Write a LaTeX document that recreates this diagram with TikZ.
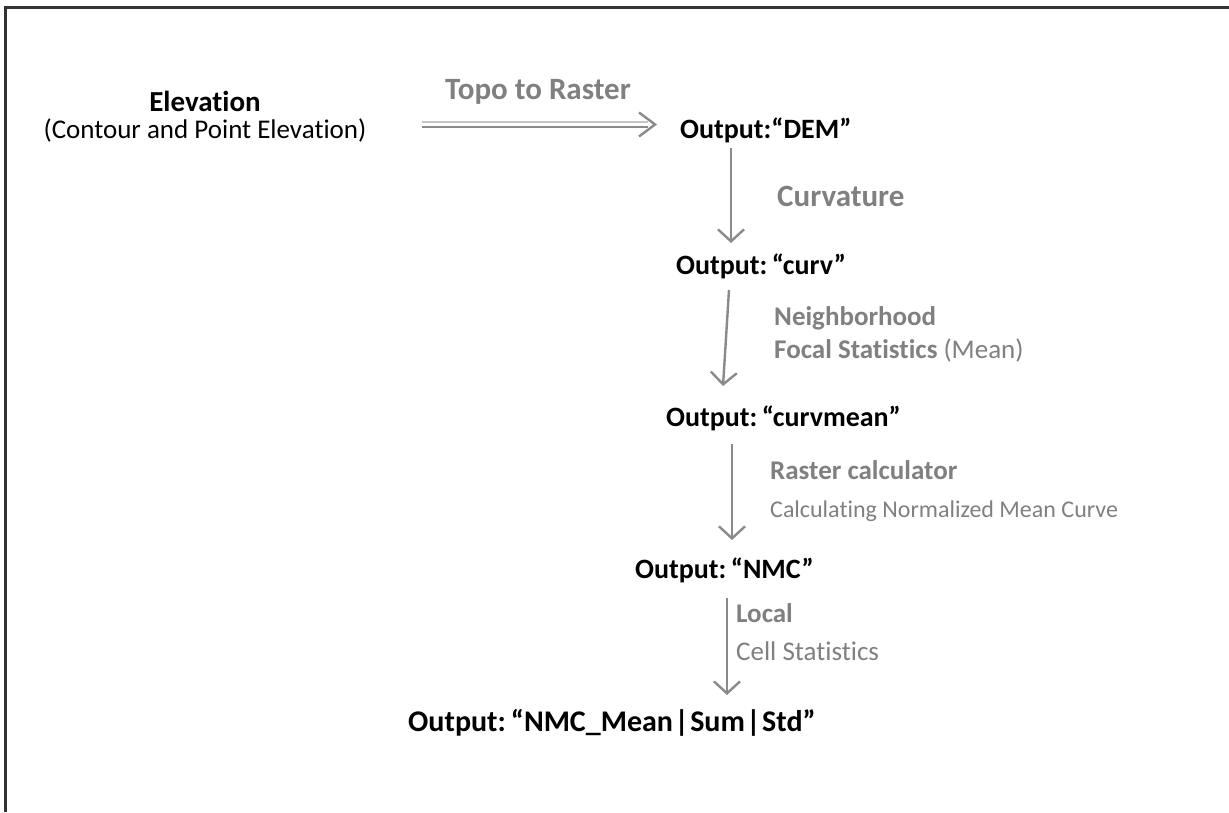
\documentclass[tikz,border=0pt]{standalone}
\usepackage{fontspec}
\setmainfont{Carlito}[Ligatures={NoCommon}]
\usetikzlibrary{arrows.meta}
\definecolor{lbl}{HTML}{808080}
\definecolor{arrc}{HTML}{8A8A8A}
\definecolor{frame}{HTML}{333333}
\tikzset{
  outbox/.style={font=\fontsize{28}{32}\selectfont\bfseries, text=black, inner sep=0pt, anchor=west},
  glbl/.style={font=\fontsize{27}{31}\selectfont\bfseries, text=lbl, inner sep=0pt, anchor=west},
  glreg/.style={font=\fontsize{25}{29}\selectfont, text=lbl, inner sep=0pt, anchor=west},
  flowarr/.style={draw=arrc, line width=2.4pt, -{Straight Barb[length=12pt,width=26pt,line width=2.4pt]}},
}
\begin{document}
\begin{tikzpicture}[x=1pt,y=-1pt]
\useasboundingbox (0,0) rectangle (1229,812);
\fill[white] (0,0) rectangle (1229,812);
\draw[frame, line width=3pt] (5.5,812) -- (5.5,7.5) -- (1229,7.5);

\node[font=\fontsize{29}{33}\selectfont\bfseries, inner sep=0pt] (elev) at (205,101) {Elevation};
\node[font=\fontsize{27}{31}\selectfont, inner sep=0pt] (cont) at (205,130) {(Contour and Point Elevation)};
\node[font=\fontsize{31}{35}\selectfont\bfseries, text=lbl, inner sep=0pt] (topo) at (538,92) {Topo to Raster};

\node[outbox] (dem) at (680,130) {Output:“DEM”};
\node[outbox] (curv) at (676,266) {Output:\kern-4pt{} “curv”};
\node[outbox] (cmean) at (666,418) {Output:\kern-4pt{} “curvmean”};
\node[outbox] (nmc) at (635,570) {Output:\kern-4pt{} “NMC”};
\node[outbox, font=\fontsize{30}{34}\selectfont\bfseries] (fin) at (408,723) {Output:\kern-4pt{} “NMC\_Mean\kern1.5pt|\kern1.5pt Sum\kern1.5pt|\kern1.5pt Std”};

\node[glbl, font=\fontsize{31}{35}\selectfont\bfseries] (l1) at (777,196) {Curvature};
\node[glbl] (l2a) at (774,318) {Neighborhood};
\node[glbl] (l2b) at (774,350) {Focal Statistics \mdseries(Mean)};
\node[glbl] (l3a) at (770,470) {Raster calculator};
\node[glreg, font=\fontsize{24}{28}\selectfont] (l3b) at (770,511) {Calculating Normalized Mean Curve};
\node[glbl] (l4a) at (736,613) {Local};
\node[glreg, font=\fontsize{27}{31}\selectfont] (l4b) at (736,651) {Cell Statistics};

% double arrow Topo to Raster
\coordinate (ts) at (422,124.5);
\coordinate (te) at (655,124.5);
\draw[draw=arrc, line width=2.4pt] ([yshift=-2.5pt]ts) -- ([xshift=-7pt,yshift=-2.5pt]te);
\draw[draw=arrc!50, line width=2.4pt] ([yshift=2.5pt]ts) -- ([xshift=-7pt,yshift=2.5pt]te);
\draw[draw=arrc, line width=2.4pt, line join=miter] ([xshift=-16pt,yshift=-12pt]te) -- (te) -- ([xshift=-16pt,yshift=12pt]te);

% vertical arrows
\coordinate (a1s) at (731,148); \coordinate (a1e) at (731,243);
\coordinate (a2s) at (729,290); \coordinate (a2e) at (723,386);
\coordinate (a3s) at (732,444); \coordinate (a3e) at (732,540);
\coordinate (a4s) at (727,598); \coordinate (a4e) at (727,695);
\draw[flowarr] (a1s) -- (a1e);
\draw[flowarr] (a2s) -- (a2e);
\draw[flowarr] (a3s) -- (a3e);
\draw[flowarr] (a4s) -- (a4e);
\end{tikzpicture}
\end{document}
